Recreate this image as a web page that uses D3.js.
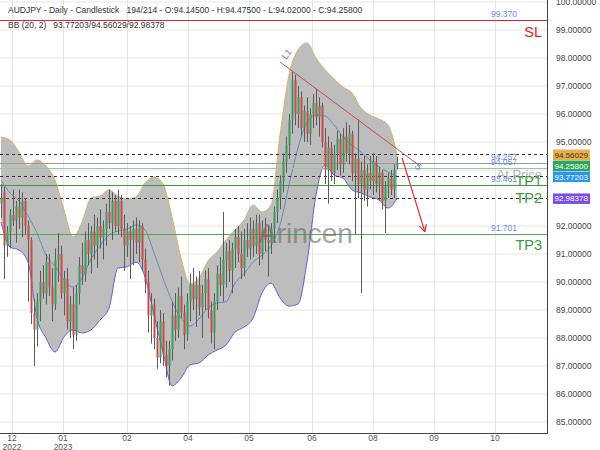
<!DOCTYPE html>
<html><head><meta charset="utf-8">
<script src="https://cdn.jsdelivr.net/npm/d3@7"></script>
<style>body{margin:0;background:#fff}svg{display:block;font-family:"Liberation Sans",Arial,sans-serif}</style>
</head><body><svg id="c" width="600" height="450"></svg>
<script>
// ---- data ----
const opens = [92.8,93.2,91.3,91.8,92.4,92.2,92.7,92.3,92.9,92.0,
91.5,88.9,88.3,89.3,90.0,89.6,90.7,89.8,89.2,90.8,
91.0,89.6,90.1,88.6,89.2,88.1,89.6,90.6,90.3,91.5,
91.0,91.8,91.3,92.0,91.6,91.9,92.5,92.1,92.9,92.0,
92.9,91.9,91.3,91.8,91.5,91.9,91.4,92.0,90.8,90.0,
88.8,89.2,88.0,87.3,88.6,87.4,87.0,87.6,88.8,88.3,
89.5,88.9,88.1,89.3,89.9,89.4,89.9,89.1,89.6,90.1,
89.0,88.2,89.3,90.3,89.9,90.8,91.1,90.4,91.2,91.6,
91.0,90.5,91.5,91.2,91.9,91.3,92.1,91.0,91.9,91.5,
91.4,91.9,92.5,93.0,93.6,94.3,94.9,95.8,97.2,96.0,
96.6,95.5,96.1,95.3,96.0,96.4,95.9,96.3,95.0,94.0,
94.8,93.9,94.6,95.1,94.2,95.2,94.6,95.3,93.9,94.4,
93.5,94.0,93.3,93.9,93.6,94.3,93.5,93.9,92.9,93.4,
93.7,93.3,94.145];
const highs = [93.5,93.4,92.0,92.6,93.3,92.9,93.3,93.2,93.0,92.2,
91.6,89.4,89.6,90.4,90.6,91.0,91.0,90.5,91.2,91.75,
91.3,90.4,90.5,89.5,89.8,89.9,90.9,91.4,91.8,92.1,
92.0,92.4,92.3,92.6,92.2,92.8,93.3,93.2,93.1,93.3,
93.1,92.4,92.1,92.0,92.2,92.3,92.2,92.1,91.2,90.4,
89.6,89.4,88.6,89.0,88.9,87.9,87.9,89.3,89.6,89.8,
90.2,89.2,89.6,90.3,90.5,90.2,90.4,89.9,90.4,90.5,
89.3,89.6,90.6,90.9,92.5,91.4,91.5,91.4,91.9,92.0,
91.8,91.9,92.1,92.3,92.2,92.4,92.4,92.2,92.3,92.0,
92.1,92.7,93.3,93.8,94.6,95.2,96.0,97.5,97.4,97.0,
96.8,96.3,96.6,96.2,96.7,96.9,96.6,96.4,95.5,95.2,
95.0,94.9,95.4,95.3,95.5,95.7,95.6,95.4,94.6,95.8,
94.3,94.5,94.2,94.5,94.6,94.5,94.1,94.0,93.6,93.9,
94.0,94.2,94.475];
const lows = [92.3,90.1,90.9,91.2,92.0,91.4,91.9,91.6,91.7,89.3,
88.5,87.0,87.7,88.6,89.4,89.2,89.5,88.6,89.0,90.0,
89.4,88.8,88.3,88.0,87.6,87.9,89.2,89.9,90.0,90.6,
90.3,90.8,90.5,91.2,90.8,91.3,91.9,91.5,91.8,91.7,
91.6,90.4,90.9,90.1,90.6,91.0,90.7,90.4,89.6,88.2,
87.8,87.6,86.9,87.1,87.0,86.6,86.3,87.2,87.9,88.0,
88.7,87.6,87.9,88.6,89.0,88.4,88.8,88.0,89.0,88.7,
87.8,87.6,89.0,89.5,89.3,89.8,90.0,89.6,90.5,90.7,
90.1,90.2,90.9,90.8,90.9,91.0,90.6,90.8,91.1,90.2,
91.0,91.4,92.1,92.6,93.2,93.9,94.4,95.3,95.6,95.5,
95.2,95.0,95.0,94.9,95.5,95.6,95.2,94.8,93.5,92.8,
93.6,93.5,94.0,93.8,93.9,94.3,94.2,93.6,91.7,93.0,
89.6,92.9,92.7,93.3,93.1,93.2,92.9,92.6,91.75,93.0,
93.1,93.0,94.02];
const closes = [93.0,91.3,91.8,92.4,92.2,92.7,92.3,92.9,92.0,91.5,
88.9,88.3,89.3,90.0,89.6,90.7,89.8,89.2,90.8,91.0,
89.6,90.1,88.6,89.2,88.1,89.6,90.6,90.3,91.5,91.0,
91.8,91.3,92.0,91.6,91.9,92.5,92.1,92.9,92.0,92.9,
91.9,91.3,91.8,91.5,91.9,91.4,92.0,90.8,90.0,88.8,
89.2,88.0,87.3,88.6,87.4,87.0,87.6,88.8,88.3,89.5,
88.9,88.1,89.3,89.9,89.4,89.9,89.1,89.6,90.1,89.0,
88.2,89.3,90.3,89.9,90.8,91.1,90.4,91.2,91.6,91.0,
90.5,91.5,91.2,91.9,91.3,92.1,91.0,91.9,91.5,91.4,
91.9,92.5,93.0,93.6,94.3,94.9,95.8,97.2,96.0,96.6,
95.5,96.1,95.3,96.0,96.4,95.9,96.3,95.0,94.0,94.8,
93.9,94.6,95.1,94.2,95.2,94.6,95.3,93.9,94.4,93.5,
94.0,93.3,93.9,93.6,94.3,93.5,93.9,92.9,93.4,93.7,
93.3,94.0,94.258];

// Bollinger band readings (sampled every 3rd candle)
const bbIndex = [0,3,6,9,12,15,18,21,24,27,30,33,36,39,42,45,48,51,54,57,60,63,66,69,72,75,78,81,84,87,90,93,96,99,102,105,108,111,114,117,120,123,126,129,132];
const bbUpper = [95.18,95.07,94.64,94.14,94.36,94.14,93.64,92.57,91.61,92.14,93.0,93.07,93.29,93.07,92.96,93.04,93.54,93.75,93.5,92.32,90.86,89.93,90.14,90.75,91.07,91.5,91.86,92.21,92.75,92.5,92.75,95.25,97.39,98.29,98.54,98.0,97.57,97.25,96.96,96.75,96.21,95.96,95.82,95.61,94.56];
const bbMiddle = [93.64,93.18,92.89,92.36,91.75,90.96,90.57,90.07,89.82,90.14,90.82,91.29,91.68,91.82,91.89,92.04,91.86,91.04,90.14,89.32,88.71,88.43,88.68,89.07,89.25,89.29,89.96,90.29,90.71,90.96,91.29,92.04,93.46,94.79,95.71,95.96,95.93,95.61,95.18,94.89,94.64,94.36,94.11,93.93,93.77];
const bbLower = [92.14,91.25,91.14,90.71,88.71,88.0,87.5,88.04,88.29,88.18,88.29,88.64,89.07,90.5,90.54,90.71,90.18,88.82,87.5,86.29,86.57,87.04,87.11,87.39,87.57,87.75,88.21,88.39,88.71,89.61,89.96,89.43,89.14,89.21,90.71,93.11,94.18,93.82,93.71,93.29,93.18,93.04,92.93,92.64,92.98];

const priceTicks = [85,86,87,88,89,90,91,92,93,94,95,96,97,98,99,100];
// labels of 93 and 94 are covered by the price tags in the original
const priceLabelTicks = [85,86,87,88,89,90,91,92,95,96,97,98,99,100];
const monthTicks = [3.67,20.7,42,62.3,82.7,103.7,124,144.3,164.7];
const monthLabels = [["12","2022"],["01","2023"],["02"],["04"],["05"],["06"],["08"],["09"],["10"]];

const bbNow = {upper:94.56029, middle:93.77203, lower:92.98378};
const lastClose = 94.258;
const levels = [
  {v:99.370, label:"99.370", color:"#d62828"},
  {v:94.257, label:"94.257", color:"#9a9a9a"},
  {v:94.057, label:"94.057", color:"#8fd08f"},
  {v:93.461, label:"93.461", color:"#3a9a3a"},
  {v:91.701, label:"91.701", color:"#4caf50"}
];
const bigLabels = [
  {v:98.75, t:"SL", color:"#e02424"},
  {v:93.69, t:"At Price", color:"#9a9a9a", size:13, op:0.75},
  {v:93.43, t:"TP1", color:"#3c9a3c"},
  {v:92.82, t:"TP2", color:"#3c9a3c"},
  {v:91.14, t:"TP3", color:"#3c9a3c"}
];
const trend = [[93, 97.86],[139.7, 94.14]];
const arrow = [[133.7, 94.43],[141.3, 91.79]];

// ---- chart ----
const svg = d3.select("#c");
const W = 547, H = 433;
const x = d3.scaleLinear().domain([0,182]).range([1,547]);
const y = d3.scaleLinear().domain([85,99]).range([422,30]);

svg.append("defs").append("clipPath").attr("id","clip")
  .append("rect").attr("x",0).attr("y",0).attr("width",W).attr("height",H);
const g = svg.append("g").attr("clip-path","url(#clip)");

// grid
g.selectAll(".hg").data(priceTicks).join("line")
  .attr("x1",0).attr("x2",W).attr("y1",d=>y(d)).attr("y2",d=>y(d))
  .attr("stroke","#e6e6e6").attr("stroke-width",1);
g.selectAll(".vg").data(monthTicks).join("line")
  .attr("x1",d=>Math.round(x(d))+0.5).attr("x2",d=>Math.round(x(d))+0.5).attr("y1",0).attr("y2",H)
  .attr("stroke","#e6e6e6").attr("stroke-width",1);

// bands
const bb = bbIndex.map((d,i)=>({i:d,u:bbUpper[i],m:bbMiddle[i],l:bbLower[i]}));
g.append("path").datum(bb)
  .attr("d", d3.area().x(d=>x(d.i)).y0(d=>y(d.l)).y1(d=>y(d.u)).curve(d3.curveMonotoneX))
  .attr("fill","#bdbdbd");
const line = k => d3.line().x(d=>x(d.i)).y(d=>y(d[k])).curve(d3.curveMonotoneX);
g.append("path").datum(bb).attr("d",line("u")).attr("fill","none").attr("stroke","#d8b45c").attr("stroke-width",1);
g.append("path").datum(bb).attr("d",line("l")).attr("fill","none").attr("stroke","#6a5ad8").attr("stroke-width",1);
g.append("path").datum(bb).attr("d",line("m")).attr("fill","none").attr("stroke","#4d7fc0").attr("stroke-width",0.8);

// horizontal level lines
[bbNow.upper,bbNow.middle,bbNow.lower].forEach(v=>{
  g.append("line").attr("x1",0).attr("x2",W).attr("y1",Math.round(y(v))+0.5).attr("y2",Math.round(y(v))+0.5)
   .attr("stroke","#333").attr("stroke-width",1).attr("stroke-dasharray","3,3");
});
levels.forEach(L=>{
  g.append("line").attr("x1",0).attr("x2",W).attr("y1",Math.round(y(L.v))+0.5).attr("y2",Math.round(y(L.v))+0.5)
   .attr("stroke",L.color).attr("stroke-width",1);
});

// candles
const candles = closes.map((c,i)=>({i,o:opens[i],h:highs[i],l:lows[i],c}));
const cg = g.append("g");
cg.selectAll(".wick").data(candles).join("line")
  .attr("x1",d=>Math.round(x(d.i))+0.5).attr("x2",d=>Math.round(x(d.i))+0.5)
  .attr("y1",d=>y(d.h)).attr("y2",d=>y(d.l)).attr("stroke","#5a5a5a").attr("stroke-width",1);
cg.selectAll(".body").data(candles).join("rect")
  .attr("x",d=>Math.round(x(d.i))-0.5).attr("width",2)
  .attr("y",d=>y(Math.max(d.o,d.c))).attr("height",d=>Math.max(1,Math.abs(y(d.o)-y(d.c))))
  .attr("fill",d=>d.c>=d.o?"#3e9a5a":"#c84a4a");

// trend line + arrow
g.append("line").attr("x1",x(trend[0][0])).attr("y1",y(trend[0][1])).attr("x2",x(trend[1][0])).attr("y2",y(trend[1][1]))
  .attr("stroke","#c0504d").attr("stroke-width",1);
const ax1=x(arrow[0][0]), ay1=y(arrow[0][1]), ax2=x(arrow[1][0]), ay2=y(arrow[1][1]);
g.append("line").attr("x1",ax1).attr("y1",ay1).attr("x2",ax2).attr("y2",ay2).attr("stroke","#e03030").attr("stroke-width",1.2);
const ang = Math.atan2(ay2-ay1, ax2-ax1);
[ang+Math.PI*0.85, ang-Math.PI*0.85].forEach(a=>{
  g.append("line").attr("x1",ax2).attr("y1",ay2).attr("x2",ax2+8*Math.cos(a)).attr("y2",ay2+8*Math.sin(a))
   .attr("stroke","#e03030").attr("stroke-width",1.2);
});
const tang = Math.atan2(y(trend[1][1])-y(trend[0][1]), x(trend[1][0])-x(trend[0][0]))*180/Math.PI;
g.append("text").attr("transform",`translate(${x(trend[0][0])+6},${y(trend[0][1])-2}) rotate(${tang-90})`)
  .attr("font-size",9).attr("fill","#5b7fe0").text("L1");
g.append("text").attr("transform",`translate(${x(trend[1][0])-6},${y(trend[1][1])+1}) rotate(${tang})`)
  .attr("font-size",9).attr("fill","#5b7fe0").text("S");

// watermark
g.append("text").attr("x",258).attr("y",y(91.4)).attr("font-size",28).attr("fill","#6a6a6a").attr("opacity",0.6).text("Arincen");

// level value labels
levels.forEach(L=>{
  svg.append("text").attr("x",491).attr("y",y(L.v)-3).attr("font-size",8.5).attr("fill","#6a8de8").text(L.label);
});
bigLabels.forEach(b=>{
  svg.append("text").attr("x",542).attr("y",y(b.v)).attr("text-anchor","end").attr("font-size",b.size||14.5)
    .attr("fill",b.color).attr("opacity",b.op||1).text(b.t);
});

// axes lines
svg.append("line").attr("x1",W+0.5).attr("x2",W+0.5).attr("y1",0).attr("y2",H).attr("stroke","#444");
svg.append("line").attr("x1",0).attr("x2",W+1).attr("y1",H+0.5).attr("y2",H+0.5).attr("stroke","#444");

// right axis
const ra = svg.append("g").attr("transform",`translate(${W},0)`)
  .call(d3.axisRight(y).tickValues(priceLabelTicks).tickFormat(d3.format(".5f")).tickSize(0).tickPadding(9));
ra.select(".domain").remove();
ra.selectAll("text").attr("font-size",8.5).attr("fill","#444").attr("font-family","Liberation Sans, Arial, sans-serif");

// price tags
const tags = [
  {v:bbNow.upper, yc:154.5, bg:"#e8b04a", fg:"#333"},
  {v:lastClose, yc:165.5, bg:"#2ea65a", fg:"#fff"},
  {v:bbNow.middle, yc:176.5, bg:"#2b95f0", fg:"#fff"},
  {v:bbNow.lower, yc:y(bbNow.lower), bg:"#7a4fe8", fg:"#fff"}
];
tags.forEach(t=>{
  svg.append("rect").attr("x",W+6).attr("y",t.yc-5).attr("width",37).attr("height",10.5).attr("fill",t.bg);
  svg.append("text").attr("x",W+7.5).attr("y",t.yc+3).attr("font-size",8).attr("fill",t.fg)
    .text(d3.format(".5f")(t.v));
});

// bottom labels
monthTicks.forEach((m,i)=>{
  monthLabels[i].forEach((s,k)=>{
    svg.append("text").attr("x",x(m)).attr("y",441+k*8.5).attr("text-anchor","middle")
      .attr("font-size",8.5).attr("fill","#555").text(s);
  });
});

// header
svg.append("text").attr("x",8).attr("y",13).attr("font-size",8.5).attr("fill","#333").style("white-space","pre")
  .text("AUDJPY - Daily - Candlestick   194/214 - O:94.14500 - H:94.47500 - L:94.02000 - C:94.25800");
svg.append("text").attr("x",8).attr("y",28).attr("font-size",8.5).attr("fill","#333").style("white-space","pre")
  .text("BB (20, 2)   93.77203/94.56029/92.98378");
</script></body></html>
